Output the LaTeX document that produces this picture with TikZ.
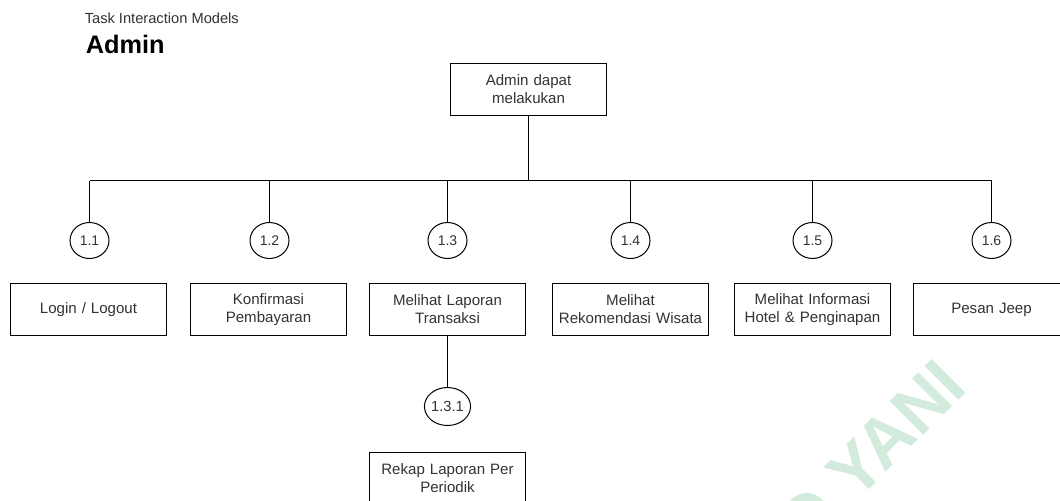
\documentclass[tikz,border=0pt]{standalone}
\usepackage{fontspec}
\setmainfont{Liberation Sans}
\usetikzlibrary{shapes.geometric}
\definecolor{txt}{HTML}{333333}
\definecolor{wm}{HTML}{D3EBDD}
\begin{document}
\begin{tikzpicture}[x=0.75pt,y=-0.75pt,
  box/.style={draw=black, line width=0.75pt, minimum width=117pt, minimum height=39pt,
    text width=115pt, align=center, font=\fontsize{11.3}{13.5}\selectfont, text=txt, inner sep=0pt},
  num/.style={draw=black, ellipse, line width=0.75pt, minimum width=29.25pt, minimum height=27pt,
    inner sep=0pt, font=\fontsize{10.5}{12}\selectfont, text=txt},
  conn/.style={line width=0.75pt}]
\useasboundingbox (0,0) rectangle (1060,500);
\clip (0,0) rectangle (1060,500);
\fill[white] (0,0) rectangle (1060,500);
\begin{scope}[shift={(0.5,0.5)}]
% watermark
\node[rotate=45, anchor=east, inner sep=0pt, text=wm,
  font=\fontsize{52}{52}\selectfont\bfseries] (wmark) at (952,372) {D YANI};
% titles
\node[anchor=base west, inner sep=0pt, text=txt, font=\fontsize{11}{13}\selectfont] (t1) at (84,23) {Task Interaction Models};
\node[anchor=base west, inner sep=0pt, font=\fontsize{19}{22}\selectfont\bfseries] (t2) at (85,53) {Admin};
% root
\node[box] (top) at (528,89) {Admin dapat\\melakukan};
% numbers
\node[num] (c1) at (89,240) {1.1};
\node[num] (c2) at (269,240) {1.2};
\node[num] (c3) at (447,240) {1.3};
\node[num] (c4) at (630,240) {1.4};
\node[num] (c5) at (812,240) {1.5};
\node[num] (c6) at (991,240) {1.6};
% boxes
\node[box] (b1) at (88,309) {Login / Logout};
\node[box] (b2) at (268,309) {Konfirmasi\\Pembayaran};
\node[box] (b3) at (447,309) {Melihat Laporan\\Transaksi};
\node[box] (b4) at (630,309) {Melihat\\Rekomendasi Wisata};
\node[box] (b5) at (812,309) {Melihat Informasi\\Hotel \& Penginapan};
\node[box] (b6) at (991,309) {Pesan Jeep};
% sub level
\node[num, minimum height=28.5pt, font=\fontsize{11}{12}\selectfont] (c31) at (447,406) {1.3.1};
\node[box] (b31) at (447,478) {Rekap Laporan Per\\Periodik};
% connectors
\coordinate (busL) at (89,180);
\coordinate (busR) at (991,180);
\draw[conn] (busL) -- (busR);
\draw[conn] (top.south) -- (top.south |- busL);
\foreach \c in {c1,c2,c3,c4,c5,c6}{
  \draw[conn] (\c.north) -- (\c.north |- busL);
}
\draw[conn] (b3.south) -- (c31.north);
\end{scope}
\end{tikzpicture}
\end{document}
